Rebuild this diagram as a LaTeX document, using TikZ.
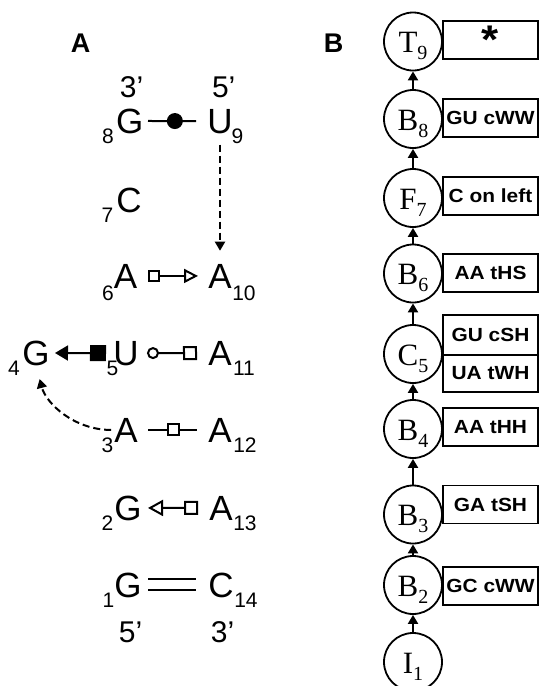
\documentclass[tikz,border=0pt]{standalone}
\usepackage{fontspec}
\setmainfont{Liberation Sans}
\newfontfamily\seriffont{Liberation Serif}
\newfontfamily\boxfont[FakeStretch=1.1]{Liberation Sans}
\usetikzlibrary{arrows.meta,calc}
\begin{document}
\begin{tikzpicture}[x=1pt,y=-1pt,
  base/.style={font=\fontsize{35}{35}\selectfont, inner sep=0pt, anchor=base},
  sub/.style={font=\fontsize{21}{21}\selectfont, inner sep=0pt, anchor=base},
  prime/.style={font=\fontsize{30}{30}\selectfont, inner sep=0pt, anchor=base},
  panel/.style={font=\bfseries\fontsize{27}{27}\selectfont, inner sep=0pt, anchor=base},
  bond/.style 2 args={line width=2pt, shorten <=#1pt, shorten >=#2pt},
  dashedarrow/.style={line width=2pt, dash pattern=on 7pt off 4pt, -{Triangle[length=9pt,width=10pt]}},
  res/.style={circle, draw, line width=1.8pt, minimum size=58pt, inner sep=0pt, text height=22pt, text depth=0pt, font=\seriffont\fontsize{31}{31}\selectfont},
  pbox/.style={rectangle, draw, line width=1.6pt, minimum width=95pt, minimum height=38pt, inner sep=0pt, font=\boxfont\bfseries\fontsize{19}{19}\selectfont},
  link/.style={line width=2pt, -{Triangle[length=9pt,width=10pt]}}
]
\useasboundingbox (0,0) rectangle (541,686);
% ---------- panel A ----------
\node[panel] (lblA) at (80.5,52) {A};
\node[prime] (p3t) at (131.5,97) {3’};
\node[prime] (p5t) at (223.7,97) {5’};
\node[base] (G8) at (129.7,133) {G};
\node[base] (U9) at (220,133) {U};
\node[sub] (s8) at (108,143) {8};
\node[sub] (s9) at (237.5,143) {9};
\node[base] (C7) at (129,212) {C};
\node[sub] (s7) at (107.5,222) {7};
\node[base] (A6) at (125.5,288) {A};
\node[base] (A10) at (220,288) {A};
\node[sub] (s6) at (108,300) {6};
\node[sub] (s10) at (244,300) {10};
\node[base] (G4) at (36,365) {G};
\node[base] (U5) at (126,365) {U};
\node[base] (A11) at (220,365) {A};
\node[sub] (s4) at (14,375) {4};
\node[sub] (s5) at (112.5,375) {5};
\node[sub] (s11) at (244,375) {11};
\node[base] (A3) at (126,442) {A};
\node[base] (A12) at (220,442) {A};
\node[sub] (s3) at (107.5,452) {3};
\node[sub] (s12) at (245,452) {12};
\node[base] (G2) at (128,520) {G};
\node[base] (A13) at (221,520) {A};
\node[sub] (s2) at (107.5,530) {2};
\node[sub] (s13) at (245,530) {13};
\node[base] (G1) at (128,597) {G};
\node[base] (C14) at (221,597) {C};
\node[sub] (s1) at (108.5,607) {1};
\node[sub] (s14) at (246,607) {14};
\node[prime] (p5b) at (130.5,642) {5’};
\node[prime] (p3b) at (222.5,642) {3’};
% bonds
\draw[bond={18.3}{24}] (G8.center) -- (U9.center)
  node[midway, circle, fill, inner sep=0pt, minimum size=16pt] (gu) {};
\draw[bond={22.5}{22}, {Square[open,length=12pt,width=12pt]}-{Triangle[open,length=14pt,width=14pt]}] (A6.center) -- (A10.center);
\draw[bond={19}{20}, {Triangle[length=13pt,width=15pt]}-{Square[length=16pt,width=16pt]}] (G4.center) -- (U5.center);
\draw[bond={21}{23}, {Circle[open,length=12pt,width=12pt]}-{Square[open,length=14pt,width=14pt]}] (U5.center) -- (A11.center);
\draw[bond={22}{23}] (A3.center) -- (A12.center)
  node[midway, rectangle, draw, fill=white, line width=2pt, inner sep=0pt, minimum size=11pt] (sq) {};
\draw[bond={20}{23}, {Triangle[open,length=15pt,width=16pt]}-{Square[open,length=14pt,width=14pt]}] (G2.center) -- (A13.center);
\draw[bond={20}{25}, line width=2pt, double, double distance=9pt] (G1.center) -- (C14.center);
% dashed arrows
\draw[dashedarrow, shorten <=11pt, shorten >=13pt] (U9.south) -- (A10.north);
\draw[dashedarrow, shorten <=3pt, shorten >=14pt] (A3.west) to[out=180, in=-75] (G4.south);
% ---------- panel B ----------
\node[panel] (lblB) at (333.5,52) {B};
\node[res] (T9) at (413,41.5) {T\raisebox{-7pt}{\fontsize{20}{20}\selectfont 9}};
\node[res] (B8) at (413,119) {B\raisebox{-7pt}{\fontsize{20}{20}\selectfont 8}};
\node[res] (F7) at (413,198) {F\raisebox{-7pt}{\fontsize{20}{20}\selectfont 7}};
\node[res] (B6) at (413,273.5) {B\raisebox{-7pt}{\fontsize{20}{20}\selectfont 6}};
\node[res] (C5) at (413,354) {C\raisebox{-7pt}{\fontsize{20}{20}\selectfont 5}};
\node[res] (B4) at (413,429) {B\raisebox{-7pt}{\fontsize{20}{20}\selectfont 4}};
\node[res] (B3) at (413,514.5) {B\raisebox{-7pt}{\fontsize{20}{20}\selectfont 3}};
\node[res] (B2) at (413,585) {B\raisebox{-7pt}{\fontsize{20}{20}\selectfont 2}};
\node[res] (I1) at (413,662) {I\raisebox{-7pt}{\fontsize{20}{20}\selectfont 1}};
\draw[link] (I1) -- (B2);
\draw[link] (B2) -- (B3);
\draw[link] (B3) -- (B4);
\draw[link] (B4) -- (C5);
\draw[link] (C5) -- (B6);
\draw[link] (B6) -- (F7);
\draw[link] (F7) -- (B8);
\draw[link] (B8) -- (T9);
\node[pbox, font=\boxfont\bfseries\fontsize{40}{40}\selectfont] (bT9) at (490.5,40) {*};
\node[pbox] (bB8) at (490.5,118) {GU cWW};
\node[pbox] (bF7) at (490.5,196) {C on left};
\node[pbox] (bB6) at (490.5,273) {AA tHS};
\node[pbox, minimum height=40pt] (bC5a) at (490.5,335) {GU cSH};
\node[pbox, minimum height=37pt] (bC5b) at (490.5,373.5) {UA tWH};
\node[pbox] (bB4) at (490.5,427) {AA tHH};
\node[pbox] (bB3) at (490.5,504.5) {GA tSH};
\node[pbox] (bB2) at (490.5,586) {GC cWW};
\end{tikzpicture}
\end{document}
